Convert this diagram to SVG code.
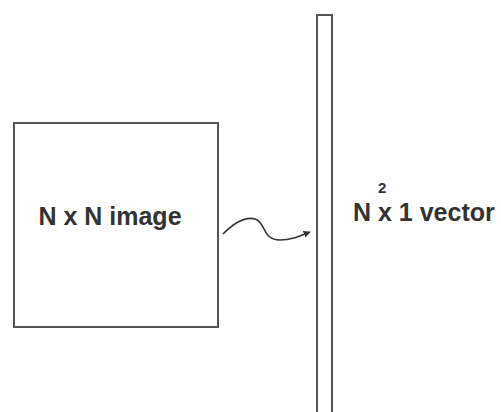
<svg xmlns="http://www.w3.org/2000/svg" width="501" height="412" viewBox="0 0 501 412">
<defs>
<style>
.box{fill:#fff;stroke:#555;stroke-width:2}
.lbl{font-family:"Liberation Sans",Arial,sans-serif;font-weight:bold;fill:#333}
.conn{fill:none;stroke:#333;stroke-width:1.6}
</style>
<marker id="ah" viewBox="0 0 10 10" refX="9" refY="5" markerWidth="7" markerHeight="7" orient="auto" markerUnits="userSpaceOnUse">
<path d="M0,0 L10,5 L0,10 z" fill="#333"/>
</marker>
</defs>
<rect width="501" height="412" fill="#fff"/>
<g id="image">
<rect class="box" x="14" y="123" width="204" height="204"/>
<text class="lbl" x="110" y="225" font-size="25" text-anchor="middle">N x N image</text>
</g>
<g id="vector">
<rect class="box" x="317" y="15" width="15" height="410"/>
<text class="lbl" x="353" y="221" font-size="25">N x 1 vector</text>
<text class="lbl" x="378" y="193" font-size="15">2</text>
</g>
<g id="connectors">
<path class="conn" d="M223,234 C233,224 244,216 255,219 C266,222 262,240 280,240 C292,240 300,236 310,232" marker-end="url(#ah)"/>
</g>
</svg>
